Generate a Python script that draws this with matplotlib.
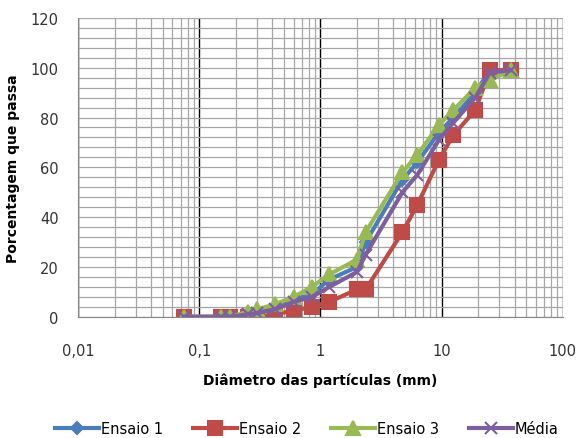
import numpy as np
import matplotlib.pyplot as plt
from matplotlib.ticker import MultipleLocator

# abertura das peneiras (mm)
diametro = [0.075, 0.15, 0.18, 0.25, 0.3, 0.42, 0.6, 0.85, 1.18, 2.0, 2.36,
            4.75, 6.3, 9.5, 12.5, 19, 25, 37.5]
ensaio1 = [0, 0, 0, 1, 2, 4, 7, 9, 15, 20, 30, 55, 62, 74, 80, 90, 99, 99]
ensaio2 = [0, 0, 0, 0, 0, 1, 2.5, 4, 6, 11, 11, 34, 45, 63, 73, 83, 99, 99]
ensaio3 = [0, 0, 0, 2, 3, 5, 8, 12, 17, 23, 34, 58, 65, 77, 83, 92, 95, 99]
media = [0, 0, 0, 1, 1.5, 3, 6, 8, 12, 18, 25, 50, 57, 71, 78, 88, 98, 99]
xticks = [0.01, 0.1, 1, 10, 100]
xlabels = ["0,01", "0,1", "1", "10", "100"]

series = [
    ("Ensaio 1", ensaio1, "#4a7ebb", "D", 6),
    ("Ensaio 2", ensaio2, "#be4b48", "s", 9.5),
    ("Ensaio 3", ensaio3, "#98b954", "^", 10),
    ("Média", media, "#7d5fa0", "x", 8),
]

fig = plt.figure(figsize=(5.79, 4.39), dpi=100)
ax = fig.add_axes([0.135, 0.276, 0.837, 0.681])

for nome, vals, cor, mk, ms in series:
    ax.plot(diametro, vals, color=cor, lw=3, marker=mk, markersize=ms,
            markeredgecolor=cor, markeredgewidth=1.5, label=nome)

ax.set_xscale("log")
minors = [m * 10.0 ** e for e in range(-2, 2) for m in range(2, 10)]
ax.set_xticks(xticks, xlabels)
ax.set_xticks(minors, [""] * len(minors), minor=True)
ax.set_xlim(0.01, 100)
ax.set_ylim(0, 120)
ax.yaxis.set_major_locator(MultipleLocator(20))
ax.yaxis.set_minor_locator(MultipleLocator(4))

# grade estilo Excel
ax.grid(True, which="minor", axis="both", color="#a6a6a6", lw=0.9)
ax.grid(True, which="major", axis="y", color="#a6a6a6", lw=0.9)
ax.grid(True, which="major", axis="x", color="black", lw=1.0)
ax.set_axisbelow(True)

for s in ["top", "right"]:
    ax.spines[s].set_visible(False)
for s in ["left", "bottom"]:
    ax.spines[s].set_color("#868686")

ax.tick_params(which="both", length=0, labelsize=10.5, labelcolor="#333333")
ax.tick_params(axis="x", which="major", pad=19)
ax.tick_params(axis="y", pad=14)
ax.set_xlabel("Diâmetro das partículas (mm)", fontsize=10, fontweight="bold", labelpad=10)
ax.set_ylabel("Porcentagem que passa", fontsize=10, fontweight="bold", labelpad=8)

fig.legend(loc="lower center", ncol=4, frameon=False, fontsize=10.5,
           bbox_to_anchor=(0.53, -0.025), handlelength=3, columnspacing=2.1,
           handletextpad=0.1)

fig.savefig("out.png", dpi=100)
